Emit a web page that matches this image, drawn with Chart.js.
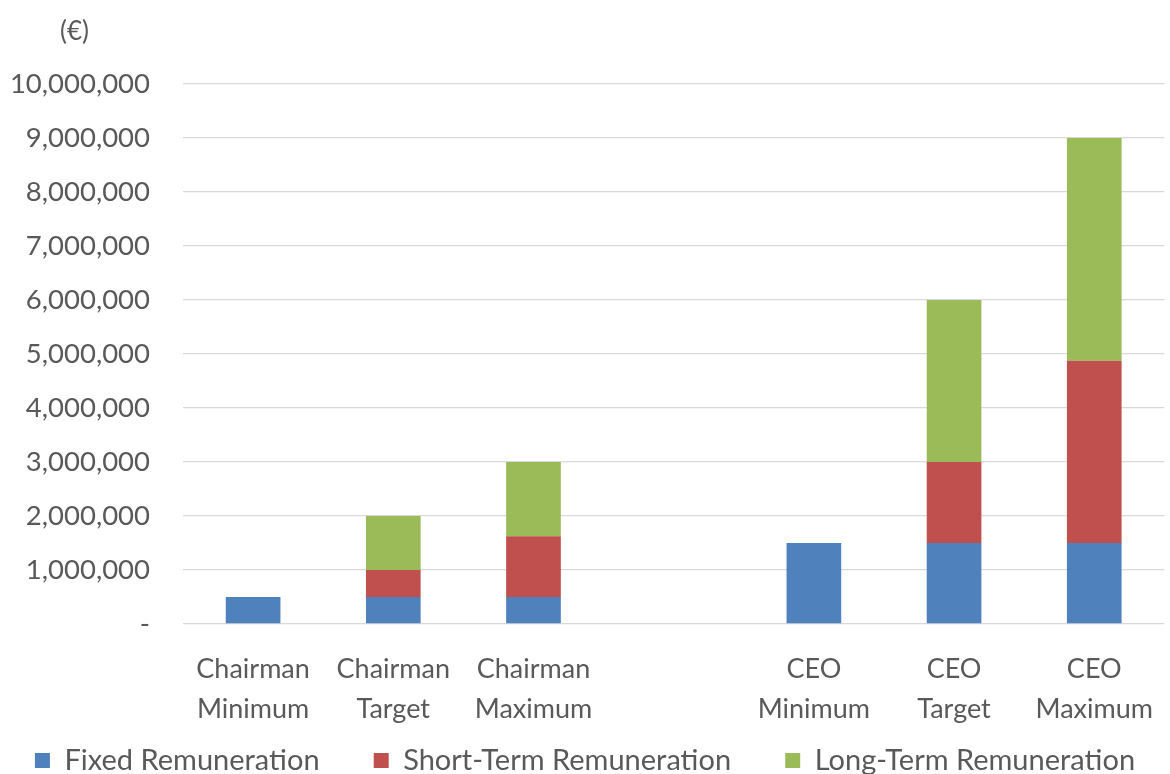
<!DOCTYPE html>
<html>
<head>
<meta charset="utf-8">
<script src="https://cdn.jsdelivr.net/npm/chart.js@4"></script>
<style>
  html, body { margin: 0; padding: 0; background: #fff; }
  #wrap { width: 1170px; height: 774px; }
</style>
</head>
<body>
<div id="wrap"><canvas id="remChart" width="1170" height="774"></canvas></div>
<script>
// categories (an empty slot separates the two roles)
const categories = [
  ['Chairman', 'Minimum'], ['Chairman', 'Target'], ['Chairman', 'Maximum'],
  '',
  ['CEO', 'Minimum'], ['CEO', 'Target'], ['CEO', 'Maximum'],
];

// euro amounts per scenario
const fixedRem = [500000, 500000, 500000, null, 1500000, 1500000, 1500000];
const shortTermRem = [0, 500000, 1125000, null, 0, 1500000, 3375000];
const longTermRem = [0, 1000000, 1375000, null, 0, 3000000, 4125000];

const yMax = 10000000;
const yStep = 1000000;
const unitLabel = '(€)';

const textColor = '#595959';
const fontFamily = 'Lato, "Open Sans", sans-serif';

// draws the unit label above the value axis
const unitLabelPlugin = {
  id: 'unitLabel',
  afterDraw(chart) {
    const ctx = chart.ctx;
    ctx.save();
    ctx.font = '26px ' + fontFamily;
    ctx.fillStyle = textColor;
    ctx.textAlign = 'left';
    ctx.textBaseline = 'middle';
    ctx.fillText(unitLabel, 60, 32);
    ctx.restore();
  },
};

// wider gaps between legend entries without extra vertical padding
const legendGap = '\u00a0'.repeat(5);
const legendLabels = (chart) => {
  const items = Chart.defaults.plugins.legend.labels.generateLabels(chart);
  return items.map((item, i) => ({
    ...item,
    text: i < items.length - 1 ? item.text + legendGap : item.text,
  }));
};

const ctx = document.getElementById('remChart').getContext('2d');
new Chart(ctx, {
  type: 'bar',
  data: {
    labels: categories,
    datasets: [
      { label: 'Fixed Remuneration', data: fixedRem, backgroundColor: '#4f81bd' },
      { label: 'Short-Term Remuneration', data: shortTermRem, backgroundColor: '#c0504d' },
      { label: 'Long-Term Remuneration', data: longTermRem, backgroundColor: '#9bbb59' },
    ],
  },
  options: {
    responsive: false,
    animation: false,
    maintainAspectRatio: false,
    // negative bottom padding lets the legend sit close to the lower edge
    layout: { padding: { top: 84, left: 0, right: 0, bottom: -11 } },
    datasets: {
      bar: { categoryPercentage: 1, barPercentage: 0.39 },
    },
    scales: {
      x: {
        stacked: true,
        grid: { display: false },
        border: { display: false },
        afterFit: (scale) => { scale.height = 105; },
        ticks: {
          color: textColor,
          font: { family: fontFamily, size: 27, lineHeight: 1.48 },
          maxRotation: 0,
          autoSkip: false,
          padding: 17,
        },
      },
      y: {
        stacked: true,
        min: 0,
        max: yMax,
        grid: { color: '#d9d9d9', lineWidth: 1.3, drawTicks: false },
        border: { display: false },
        afterFit: (scale) => { scale.width = 183; },
        ticks: {
          stepSize: yStep,
          color: textColor,
          padding: 33,
          font: { family: fontFamily, size: 27.5 },
          callback: (v) => (v === 0 ? '-' : v.toLocaleString('en-US')),
        },
      },
    },
    plugins: {
      legend: {
        position: 'bottom',
        labels: {
          color: textColor,
          font: { family: fontFamily, size: 29 },
          boxWidth: 15,
          boxHeight: 15,
          padding: 17,
          generateLabels: legendLabels,
        },
      },
      tooltip: { enabled: false },
    },
  },
  plugins: [unitLabelPlugin],
});
</script>
</body>
</html>
